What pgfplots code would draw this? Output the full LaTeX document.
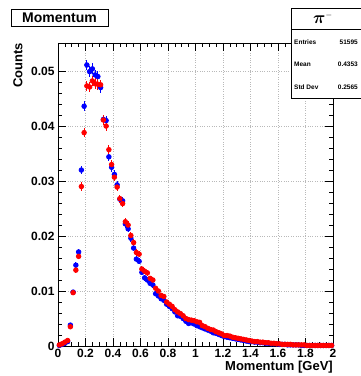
\documentclass[border=0pt]{standalone}
\usepackage{amsmath}
\usepackage{pgfplots}
\usepackage{pgfplotstable}
\pgfplotsset{compat=1.18}
\usepackage{fontspec}
\setmainfont{Liberation Sans}
\definecolor{rootblue}{RGB}{0,0,255}
\definecolor{rootred}{RGB}{255,0,0}
\pgfplotstableread{
x r b
0.01 0.0002 0.0001
0.03 0.0004 0.0003
0.05 0.0007 0.0005
0.07 0.0010 0.0008
0.09 0.0035 0.0038
0.11 0.0097 0.0098
0.13 0.0138 0.0147
0.15 0.0163 0.0171
0.17 0.0290 0.0320
0.19 0.0388 0.0436
0.21 0.0473 0.0511
0.23 0.0471 0.0499
0.25 0.0482 0.0504
0.27 0.0477 0.0493
0.29 0.0476 0.0490
0.31 0.0475 0.0470
0.33 0.0411 0.0412
0.35 0.0400 0.0410
0.37 0.0357 0.0344
0.39 0.0330 0.0325
0.41 0.0307 0.0312
0.43 0.0289 0.0293
0.45 0.0268 0.0267
0.47 0.0259 0.0264
0.49 0.0226 0.0222
0.51 0.0220 0.0213
0.53 0.0201 0.0196
0.55 0.0188 0.0178
0.57 0.0170 0.0158
0.59 0.0167 0.0154
0.61 0.0140 0.0134
0.63 0.0136 0.0124
0.65 0.0133 0.0120
0.67 0.0123 0.0114
0.69 0.0120 0.0111
0.71 0.0105 0.0095
0.73 0.0100 0.0091
0.75 0.0092 0.0086
0.77 0.0090 0.0083
0.79 0.0080 0.0076
0.81 0.0076 0.0072
0.83 0.0072 0.0068
0.85 0.0066 0.0062
0.87 0.0062 0.0055
0.89 0.0059 0.0054
0.91 0.0055 0.0050
0.93 0.0050 0.0045
0.95 0.0048 0.0041
0.97 0.0047 0.0042
0.99 0.0046 0.0040
1.01 0.0044 0.0037
1.03 0.0043 0.0035
1.05 0.0037 0.0033
1.07 0.0035 0.0031
1.09 0.0032 0.0029
1.11 0.0030 0.0027
1.13 0.0029 0.0024
1.15 0.0026 0.0023
1.17 0.0024 0.0021
1.19 0.0022 0.0019
1.21 0.0019 0.0017
1.23 0.0019 0.0016
1.25 0.0018 0.0015
1.27 0.0016 0.0014
1.29 0.0015 0.0013
1.31 0.0014 0.0012
1.33 0.0013 0.0011
1.35 0.0012 0.0010
1.37 0.0011 0.0009
1.39 0.0010 0.0008
1.41 0.0009 0.0008
1.43 0.0008 0.0007
1.45 0.0008 0.0007
1.47 0.0007 0.0006
1.49 0.0007 0.0006
1.51 0.0006 0.0005
1.53 0.0006 0.0005
1.55 0.0005 0.0004
1.57 0.0005 0.0004
1.59 0.0004 0.0004
1.61 0.0004 0.0003
1.63 0.0003 0.0003
1.65 0.0003 0.0003
1.67 0.0003 0.0002
1.69 0.0003 0.0002
1.71 0.0002 0.0002
1.73 0.0002 0.0002
1.75 0.0002 0.0002
1.77 0.0002 0.0001
1.79 0.0002 0.0001
1.81 0.0001 0.0001
1.83 0.0001 0.0001
1.85 0.0001 0.0001
1.87 0.0001 0.0001
1.89 0.0001 0.0001
1.91 0.0001 0.0001
1.93 0.0001 0.0001
1.95 0.0001 0.0001
1.97 0.0001 0.0001
1.99 0.0001 0.0001
}\momtable
\begin{document}
\begin{tikzpicture}[x=1pt,y=1pt]
\path[use as bounding box] (-58,-30) rectangle (302,346);
\begin{axis}[
  at={(0,0)}, anchor=south west,
  scale only axis, width=275pt, height=303pt,
  xmin=0, xmax=2, ymin=0, ymax=0.0551,
  xtick={0,0.2,0.4,0.6,0.8,1,1.2,1.4,1.6,1.8,2},
  ytick={0,0.01,0.02,0.03,0.04,0.05},
  minor x tick num=3, minor y tick num=4,
  scaled y ticks=false, scaled x ticks=false,
  yticklabel style={/pgf/number format/fixed,/pgf/number format/precision=2},
  xticklabel style={/pgf/number format/fixed},
  /pgf/number format/assume math mode=true,
  ticklabel style={font=\bfseries\fontsize{12}{14}\selectfont},
  tick align=inside,
  major tick length=8pt, minor tick length=4pt,
  tick style={black, line width=0.6pt},
  grid=major,
  major grid style={dotted, gray!55, line width=0.7pt},
  axis line style={line width=0.8pt},
  clip=false,
]
\addplot[rootblue, only marks, mark=*, mark size=2.3pt, line width=0.8pt,
  error bars/.cd, x dir=both, x explicit, y dir=both, y explicit,
  error mark=none, error bar style={line width=0.8pt}]
  table[x=x, y=b, x error expr=0.01, y error expr={sqrt(\thisrow{b}/51595)}] {\momtable};
\addplot[rootred, only marks, mark=*, mark size=2.3pt, line width=0.8pt,
  error bars/.cd, x dir=both, x explicit, y dir=both, y explicit,
  error mark=none, error bar style={line width=0.8pt}]
  table[x=x, y=r, x error expr=0.01, y error expr={sqrt(\thisrow{r}/51595)}] {\momtable};
\end{axis}
% axis labels
\node[anchor=east, font=\bfseries\fontsize{13}{15}\selectfont, inner sep=0pt] at (275,-21) {Momentum [GeV]};
\node[rotate=90, anchor=east, font=\bfseries\fontsize{13}{15}\selectfont, inner sep=0pt] at (-40,303) {Counts};
% title box
\draw[fill=white, line width=0.8pt] (-47,320) rectangle (50,336.7);
\node[font=\bfseries\fontsize{14}{16}\selectfont, inner sep=0pt] at (1.5,328.3) {Momentum};
% stats box
\draw[fill=white, line width=0.8pt] (233,248) rectangle (306,338);
\draw[line width=0.8pt] (233,317) -- (306,317);
\node[font=\fontsize{16}{18}\selectfont, inner sep=0pt] at (265,328) {$\boldsymbol{\pi}^{\scriptscriptstyle -}$};
\begin{scope}[every node/.style={font=\bfseries\fontsize{6.5}{8}\selectfont, inner sep=0pt}]
\node[anchor=west] at (236,304) {Entries};
\node[anchor=east] at (300,304) {51595};
\node[anchor=west] at (236,282) {Mean};
\node[anchor=east] at (300,282) {0.4353};
\node[anchor=west] at (236,259) {Std Dev};
\node[anchor=east] at (300,259) {0.2565};
\end{scope}
\end{tikzpicture}
\end{document}
